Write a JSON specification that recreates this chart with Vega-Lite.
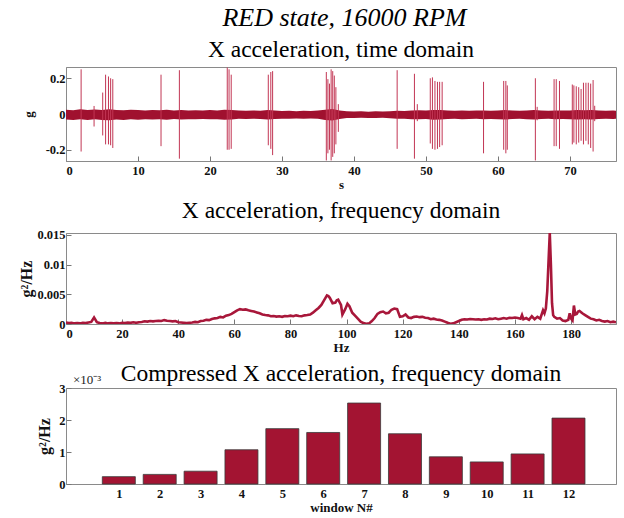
{
  "$schema": "https://vega.github.io/schema/vega-lite/v6.json",
  "background": "white",
  "padding": {"left": 18, "top": 5, "right": 4, "bottom": 2},
  "title": {"text": "RED state, 16000 RPM", "font": "Liberation Serif", "fontStyle": "italic", "fontSize": 26, "fontWeight": "normal", "color": "#000", "anchor": "middle", "offset": 6, "dx": 27},
  "config": {
    "view": {"stroke": "#8a8a8a", "strokeWidth": 1},
    "axis": {"labelFont": "Liberation Serif", "labelFontWeight": "bold", "labelFontSize": 12.5, "labelColor": "#111", "titleFont": "Liberation Serif", "titleFontWeight": "bold", "titleFontSize": 13, "titleColor": "#111", "grid": false, "tickSize": -5, "tickColor": "#777", "domainColor": "#8a8a8a", "labelPadding": 6},
    "axisX": {"labelPadding": 8, "titlePadding": 2},
    "title": {"font": "Liberation Serif", "fontSize": 23.5, "fontWeight": "normal", "color": "#000", "offset": 6}
  },
  "vconcat": [
    {
      "title": "X acceleration, time domain",
      "width": 550, "height": 94,
      "layer": [
        {
          "data": {"values": [
            {"t":0,"hi":0.024,"lo":-0.031},{"t":1,"hi":0.021,"lo":-0.034},{"t":2,"hi":0.026,"lo":-0.030},{"t":3,"hi":0.022,"lo":-0.033},{"t":4,"hi":0.025,"lo":-0.029},{"t":5,"hi":0.022,"lo":-0.034},{"t":6,"hi":0.027,"lo":-0.035},{"t":7,"hi":0.023,"lo":-0.031},{"t":8,"hi":0.021,"lo":-0.033},{"t":9,"hi":0.024,"lo":-0.030},{"t":10,"hi":0.022,"lo":-0.032},{"t":11,"hi":0.020,"lo":-0.029},{"t":12,"hi":0.023,"lo":-0.031},{"t":13,"hi":0.021,"lo":-0.030},{"t":14,"hi":0.024,"lo":-0.032},{"t":15,"hi":0.020,"lo":-0.028},{"t":16,"hi":0.022,"lo":-0.031},{"t":17,"hi":0.019,"lo":-0.029},{"t":18,"hi":0.021,"lo":-0.030},{"t":19,"hi":0.020,"lo":-0.028},{"t":20,"hi":0.022,"lo":-0.030},{"t":21,"hi":0.019,"lo":-0.029},{"t":22,"hi":0.024,"lo":-0.032},{"t":23,"hi":0.022,"lo":-0.031},{"t":24,"hi":0.019,"lo":-0.027},{"t":25,"hi":0.018,"lo":-0.028},{"t":26,"hi":0.020,"lo":-0.026},{"t":27,"hi":0.018,"lo":-0.028},{"t":28,"hi":0.023,"lo":-0.031},{"t":29,"hi":0.020,"lo":-0.028},{"t":30,"hi":0.017,"lo":-0.026},{"t":31,"hi":0.018,"lo":-0.027},{"t":32,"hi":0.016,"lo":-0.025},{"t":33,"hi":0.018,"lo":-0.027},{"t":34,"hi":0.017,"lo":-0.025},{"t":35,"hi":0.019,"lo":-0.027},{"t":36,"hi":0.024,"lo":-0.033},{"t":37,"hi":0.028,"lo":-0.036},{"t":38,"hi":0.020,"lo":-0.028},{"t":39,"hi":0.015,"lo":-0.023},{"t":40,"hi":0.014,"lo":-0.022},{"t":41,"hi":0.015,"lo":-0.021},{"t":42,"hi":0.013,"lo":-0.022},{"t":43,"hi":0.015,"lo":-0.023},{"t":44,"hi":0.014,"lo":-0.021},{"t":45,"hi":0.016,"lo":-0.024},{"t":46,"hi":0.018,"lo":-0.026},{"t":47,"hi":0.017,"lo":-0.027},{"t":48,"hi":0.020,"lo":-0.029},{"t":49,"hi":0.021,"lo":-0.030},{"t":50,"hi":0.019,"lo":-0.028},{"t":51,"hi":0.023,"lo":-0.032},{"t":52,"hi":0.022,"lo":-0.031},{"t":53,"hi":0.019,"lo":-0.028},{"t":54,"hi":0.018,"lo":-0.027},{"t":55,"hi":0.020,"lo":-0.029},{"t":56,"hi":0.018,"lo":-0.028},{"t":57,"hi":0.019,"lo":-0.027},{"t":58,"hi":0.020,"lo":-0.029},{"t":59,"hi":0.018,"lo":-0.028},{"t":60,"hi":0.020,"lo":-0.029},{"t":61,"hi":0.022,"lo":-0.031},{"t":62,"hi":0.019,"lo":-0.028},{"t":63,"hi":0.018,"lo":-0.027},{"t":64,"hi":0.019,"lo":-0.029},{"t":65,"hi":0.022,"lo":-0.031},{"t":66,"hi":0.019,"lo":-0.028},{"t":67,"hi":0.018,"lo":-0.027},{"t":68,"hi":0.020,"lo":-0.029},{"t":69,"hi":0.019,"lo":-0.028},{"t":70,"hi":0.020,"lo":-0.030},{"t":71,"hi":0.022,"lo":-0.031},{"t":72,"hi":0.021,"lo":-0.030},{"t":73,"hi":0.022,"lo":-0.031},{"t":74,"hi":0.019,"lo":-0.028},{"t":75,"hi":0.018,"lo":-0.027},{"t":76,"hi":0.019,"lo":-0.028},{"t":76.4,"hi":0.018,"lo":-0.027}
          ]},
          "mark": {"type": "area", "color": "#A0112F", "interpolate": "linear"},
          "encoding": {
            "x": {"field": "t", "type": "quantitative", "scale": {"domain": [0, 76.4], "nice": false, "zero": false}, "axis": {"values": [0,10,20,30,40,50,60,70], "title": "s"}},
            "y": {"field": "lo", "type": "quantitative", "scale": {"domain": [-0.263, 0.263], "nice": false}, "axis": {"values": [-0.2, 0, 0.2], "labelExpr": "datum.value == 0 ? '0' : (datum.value > 0 ? '0.2' : '-0.2')", "title": "g", "titlePadding": 10}},
            "y2": {"field": "hi"}
          }
        },
        {
          "data": {"values": [
            {"t":2.1,"hi":0.25,"lo":-0.21},{"t":3.9,"hi":0.045,"lo":-0.07},{"t":5.1,"hi":0.12,"lo":-0.12},{"t":5.5,"hi":0.22,"lo":-0.17},{"t":5.9,"hi":0.21,"lo":-0.17},{"t":6.2,"hi":0.2,"lo":-0.175},{"t":6.5,"hi":0.195,"lo":-0.19},
            {"t":13.2,"hi":0.22,"lo":-0.18},{"t":15.75,"hi":0.245,"lo":-0.25},
            {"t":22.4,"hi":0.26,"lo":-0.2},{"t":22.65,"hi":0.25,"lo":-0.2},{"t":22.95,"hi":0.22,"lo":-0.195},
            {"t":28.1,"hi":0.22,"lo":-0.175},{"t":28.45,"hi":0.235,"lo":-0.195},{"t":28.7,"hi":0.24,"lo":-0.23},
            {"t":36.16,"hi":0.235,"lo":-0.26},{"t":36.38,"hi":0.195,"lo":-0.22},{"t":36.6,"hi":0.17,"lo":-0.2},{"t":36.83,"hi":0.25,"lo":-0.26},{"t":37.05,"hi":0.24,"lo":-0.24},{"t":37.27,"hi":0.215,"lo":-0.22},{"t":37.49,"hi":0.15,"lo":-0.17},{"t":37.83,"hi":0.055,"lo":-0.1},
            {"t":46.0,"hi":0.245,"lo":-0.195},{"t":48.4,"hi":0.225,"lo":-0.25},{"t":48.8,"hi":0.055,"lo":-0.04},
            {"t":50.6,"hi":0.2,"lo":-0.165},{"t":50.9,"hi":0.205,"lo":-0.195},{"t":51.25,"hi":0.185,"lo":-0.2},{"t":51.6,"hi":0.18,"lo":-0.195},{"t":51.9,"hi":0.18,"lo":-0.185},{"t":52.25,"hi":0.18,"lo":-0.175},
            {"t":58.0,"hi":0.18,"lo":-0.22},{"t":60.8,"hi":0.185,"lo":-0.2},{"t":61.1,"hi":0.185,"lo":-0.22},{"t":61.3,"hi":0.16,"lo":-0.2},
            {"t":65.2,"hi":0.2,"lo":-0.26},{"t":65.45,"hi":0.04,"lo":-0.035},
            {"t":67.8,"hi":0.195,"lo":-0.18},{"t":68.1,"hi":0.195,"lo":-0.18},{"t":68.55,"hi":0.185,"lo":-0.195},
            {"t":70.33,"hi":0.165,"lo":-0.17},{"t":70.55,"hi":0.16,"lo":-0.16},{"t":70.88,"hi":0.155,"lo":-0.17},{"t":71.22,"hi":0.15,"lo":-0.16},{"t":71.55,"hi":0.14,"lo":-0.15},{"t":71.88,"hi":0.175,"lo":-0.17},{"t":72.22,"hi":0.175,"lo":-0.15},{"t":72.55,"hi":0.175,"lo":-0.17},{"t":72.88,"hi":0.17,"lo":-0.19},{"t":73.22,"hi":0.19,"lo":-0.21},{"t":73.44,"hi":0.046,"lo":-0.04}
          ]},
          "mark": {"type": "rule", "color": "#C23654", "strokeWidth": 1},
          "encoding": {
            "x": {"field": "t", "type": "quantitative"},
            "y": {"field": "lo", "type": "quantitative"},
            "y2": {"field": "hi"}
          }
        }
      ]
    },
    {
      "title": "X acceleration, frequency domain",
      "width": 550, "height": 91,
      "data": {"values": [
        {"f":0,"p":0.00025},{"f":1,"p":0.00015},{"f":2,"p":0.0002},{"f":3,"p":0.0001},{"f":4,"p":0.00015},{"f":5,"p":0.0001},{"f":6,"p":0.0002},{"f":7,"p":0.00015},{"f":8,"p":0.00025},{"f":9,"p":0.00035},{"f":10,"p":0.0011},{"f":11,"p":0.0003},{"f":12,"p":0.00015},{"f":13,"p":0.0001},{"f":14,"p":0.0002},{"f":15,"p":0.0001},{"f":16,"p":0.00015},{"f":17,"p":0.0001},{"f":18,"p":0.00015},{"f":19,"p":0.0001},{"f":20,"p":0.0002},{"f":21,"p":0.00015},{"f":22,"p":0.00025},{"f":23,"p":0.0002},{"f":24,"p":0.0003},{"f":25,"p":0.0002},{"f":26,"p":0.0003},{"f":27,"p":0.00035},{"f":28,"p":0.00045},{"f":29,"p":0.0004},{"f":30,"p":0.0005},{"f":31,"p":0.00045},{"f":32,"p":0.0005},{"f":33,"p":0.00055},{"f":34,"p":0.0005},{"f":35,"p":0.00065},{"f":36,"p":0.00055},{"f":37,"p":0.0005},{"f":38,"p":0.00045},{"f":39,"p":0.0005},{"f":40,"p":0.0003},{"f":41,"p":0.00025},{"f":42,"p":0.0002},{"f":43,"p":0.00015},{"f":44,"p":0.0002},{"f":45,"p":0.00025},{"f":46,"p":0.00035},{"f":47,"p":0.0003},{"f":48,"p":0.0005},{"f":49,"p":0.00055},{"f":50,"p":0.0007},{"f":51,"p":0.00065},{"f":52,"p":0.00085},{"f":53,"p":0.00095},{"f":54,"p":0.001},{"f":55,"p":0.0012},{"f":56,"p":0.0011},{"f":57,"p":0.0014},{"f":58,"p":0.0015},{"f":59,"p":0.0017},{"f":60,"p":0.002},{"f":61,"p":0.0023},{"f":62,"p":0.0025},{"f":63,"p":0.0024},{"f":64,"p":0.00245},{"f":65,"p":0.0023},{"f":66,"p":0.0022},{"f":67,"p":0.0021},{"f":68,"p":0.00195},{"f":69,"p":0.0018},{"f":70,"p":0.0016},{"f":71,"p":0.0015},{"f":72,"p":0.00145},{"f":73,"p":0.0013},{"f":74,"p":0.00135},{"f":75,"p":0.00125},{"f":76,"p":0.0013},{"f":77,"p":0.0012},{"f":78,"p":0.00135},{"f":79,"p":0.0013},{"f":80,"p":0.0014},{"f":81,"p":0.0013},{"f":82,"p":0.00145},{"f":83,"p":0.00135},{"f":84,"p":0.0013},{"f":85,"p":0.00145},{"f":86,"p":0.0015},{"f":87,"p":0.0016},{"f":88,"p":0.0019},{"f":89,"p":0.0023},{"f":90,"p":0.0027},{"f":91,"p":0.0032},{"f":92,"p":0.004},{"f":93,"p":0.0048},{"f":93.5,"p":0.0047},{"f":94,"p":0.0044},{"f":95,"p":0.0035},{"f":96,"p":0.0036},{"f":96.5,"p":0.004},{"f":97,"p":0.0041},{"f":98,"p":0.0032},{"f":98.5,"p":0.0016},{"f":99.5,"p":0.0025},{"f":100.3,"p":0.0034},{"f":101,"p":0.003},{"f":102,"p":0.0019},{"f":103,"p":0.0014},{"f":104,"p":0.0009},{"f":105,"p":0.0004},{"f":106,"p":0.00015},{"f":107,"p":0.00005},{"f":108,"p":0.0001},{"f":109,"p":0.0005},{"f":110,"p":0.001},{"f":111,"p":0.0017},{"f":112,"p":0.002},{"f":113,"p":0.0021},{"f":114,"p":0.0018},{"f":115,"p":0.0019},{"f":116,"p":0.0024},{"f":117,"p":0.0026},{"f":118,"p":0.0025},{"f":119,"p":0.0012},{"f":120,"p":0.0013},{"f":121,"p":0.0016},{"f":122,"p":0.0011},{"f":123,"p":0.001},{"f":124,"p":0.0012},{"f":125,"p":0.00125},{"f":126,"p":0.00115},{"f":127,"p":0.0012},{"f":128,"p":0.00105},{"f":129,"p":0.001},{"f":130,"p":0.0008},{"f":131,"p":0.0009},{"f":132,"p":0.00075},{"f":133,"p":0.0007},{"f":134,"p":0.0006},{"f":135,"p":0.0004},{"f":136,"p":0.0002},{"f":137,"p":0.00005},{"f":138,"p":0.0001},{"f":139,"p":0.0003},{"f":140,"p":0.0005},{"f":141,"p":0.0007},{"f":142,"p":0.0008},{"f":143,"p":0.00075},{"f":144,"p":0.00085},{"f":145,"p":0.0008},{"f":146,"p":0.00075},{"f":147,"p":0.0008},{"f":148,"p":0.0007},{"f":149,"p":0.0008},{"f":150,"p":0.00075},{"f":151,"p":0.0009},{"f":152,"p":0.00085},{"f":153,"p":0.00095},{"f":154,"p":0.0008},{"f":155,"p":0.0009},{"f":156,"p":0.001},{"f":157,"p":0.0009},{"f":158,"p":0.00105},{"f":159,"p":0.001},{"f":160,"p":0.0011},{"f":161,"p":0.001},{"f":162,"p":0.0009},{"f":162.5,"p":0.0015},{"f":163,"p":0.0008},{"f":164,"p":0.001},{"f":165,"p":0.0007},{"f":166,"p":0.0013},{"f":167,"p":0.0008},{"f":168,"p":0.0012},{"f":169,"p":0.0009},{"f":170,"p":0.0023},{"f":170.5,"p":0.0018},{"f":171,"p":0.0026},{"f":171.5,"p":0.0055},{"f":172,"p":0.011},{"f":172.4,"p":0.0153},{"f":172.8,"p":0.01},{"f":173.2,"p":0.0035},{"f":173.6,"p":0.0015},{"f":174,"p":0.0012},{"f":175,"p":0.0009},{"f":176,"p":0.001},{"f":177,"p":0.0006},{"f":178,"p":0.0005},{"f":179,"p":0.0007},{"f":179.5,"p":0.0018},{"f":180,"p":0.0009},{"f":180.5,"p":0.0006},{"f":181,"p":0.0031},{"f":181.5,"p":0.0016},{"f":182,"p":0.0017},{"f":182.5,"p":0.0021},{"f":183,"p":0.0022},{"f":184,"p":0.0018},{"f":185,"p":0.0015},{"f":186,"p":0.0012},{"f":187,"p":0.0009},{"f":188,"p":0.0008},{"f":189,"p":0.0006},{"f":190,"p":0.0007},{"f":191,"p":0.0005},{"f":192,"p":0.0004},{"f":193,"p":0.0005},{"f":194,"p":0.0003},{"f":195,"p":0.0004},{"f":196,"p":0.0003}
      ]},
      "mark": {"type": "line", "color": "#A8173A", "strokeWidth": 2.6, "clip": true},
      "encoding": {
        "x": {"field": "f", "type": "quantitative", "scale": {"domain": [0, 196], "nice": false}, "axis": {"values": [0,20,40,60,80,100,120,140,160,180], "title": "Hz"}},
        "y": {"field": "p", "type": "quantitative", "scale": {"domain": [0, 0.0153], "nice": false}, "axis": {"values": [0, 0.005, 0.01, 0.015], "format": "~g", "title": "g²/Hz", "titleFontSize": 16, "titlePadding": 2}}
      }
    },
    {
      "title": {"text": "Compressed X acceleration, frequency domain", "offset": -11},
      "width": 550, "height": 96,
      "layer": [
        {
          "data": {"values": [
            {"w":1,"v":0.23},{"w":2,"v":0.30},{"w":3,"v":0.40},{"w":4,"v":1.07},{"w":5,"v":1.73},{"w":6,"v":1.61},{"w":7,"v":2.53},{"w":8,"v":1.57},{"w":9,"v":0.85},{"w":10,"v":0.69},{"w":11,"v":0.94},{"w":12,"v":2.06}
          ]},
          "mark": {"type": "bar", "color": "#A31432", "stroke": "#3a3a3a", "strokeWidth": 0.8, "size": 33},
          "encoding": {
            "x": {"field": "w", "type": "quantitative", "scale": {"domain": [-0.17, 13.04], "nice": false, "zero": false}, "axis": {"values": [1,2,3,4,5,6,7,8,9,10,11,12], "title": "window N#"}},
            "y": {"field": "v", "type": "quantitative", "scale": {"domain": [0, 3], "nice": false}, "axis": {"values": [0, 1, 2, 3], "format": "d", "title": "g²/Hz", "titleFontSize": 16, "titlePadding": 6}}
          }
        },
        {
          "data": {"values": [{"label": "×10⁻³"}]},
          "mark": {"type": "text", "font": "Liberation Serif", "fontSize": 13, "align": "left", "baseline": "bottom", "dy": -1, "dx": 2, "color": "#222"},
          "encoding": {
            "x": {"datum": -0.17, "type": "quantitative", "axis": {"values": [1,2,3,4,5,6,7,8,9,10,11,12], "title": "window N#"}},
            "y": {"datum": 3, "type": "quantitative", "axis": {"values": [0, 1, 2, 3], "format": "d", "title": "g²/Hz", "titleFontSize": 16, "titlePadding": 6}},
            "text": {"field": "label"}
          }
        }
      ]
    }
  ],
  "spacing": 6
}
